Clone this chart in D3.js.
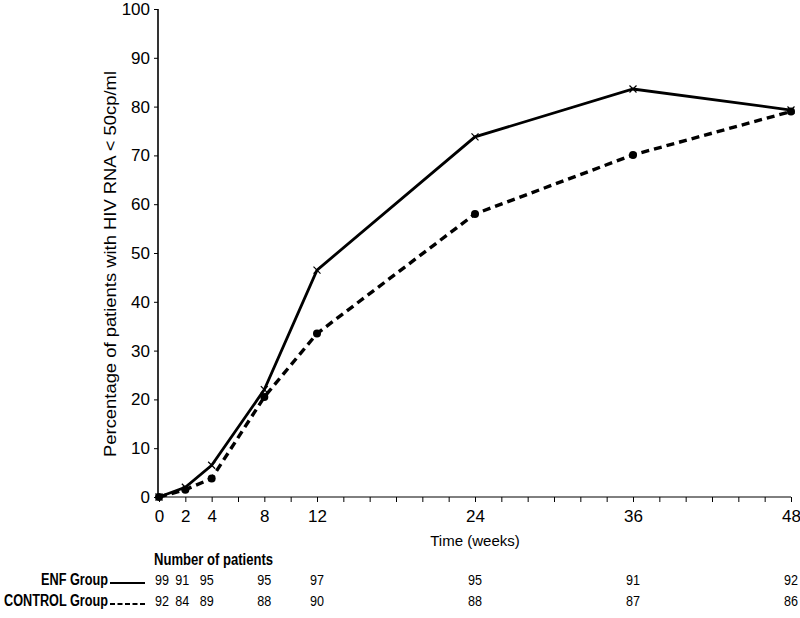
<!DOCTYPE html>
<html>
<head>
<meta charset="utf-8">
<script src="https://cdn.jsdelivr.net/npm/d3@7"></script>
<style>
  body { margin: 0; background: #fff; }
  svg { display: block; }
  text { font-family: "Liberation Sans", Arial, sans-serif; fill: #000; }
</style>
</head>
<body>
<svg id="chart" width="800" height="618"></svg>
<script>
// ---- data ----
const weeks = [0, 2, 4, 8, 12, 24, 36, 48];
const enfValues = [0, 2, 6.5, 22, 46.5, 73.8, 83.6, 79.3];
const controlValues = [0, 1.5, 3.8, 20.5, 33.5, 58, 70.1, 79];
const enfCounts = [99, 91, 95, 95, 97, 95, 91, 92];
const controlCounts = [92, 84, 89, 88, 90, 88, 87, 86];
const xTickLabels = [0, 2, 4, 8, 12, 24, 36, 48];
const xMinorTicks = d3.range(0, 49, 2);
const yTicks = [0, 10, 20, 30, 40, 50, 60, 70, 80, 90, 100];
const yTitle = "Percentage of patients with HIV RNA < 50cp/ml";
const xTitle = "Time (weeks)";
const tableTitle = "Number of patients";
const groupNames = ["ENF Group", "CONTROL Group"];

// ---- layout ----
const svg = d3.select("#chart");
const x = d3.scaleLinear().domain([0, 48]).range([159, 791]);
const y = d3.scaleLinear().domain([0, 100]).range([497, 9]);
const font = "Liberation Sans, Arial, sans-serif";

// y axis
const yAxis = d3.axisLeft(y).tickValues(yTicks).tickSize(4).tickPadding(4).tickFormat(d3.format("d"));
const gy = svg.append("g").attr("transform", "translate(158,0)").call(yAxis);
gy.select(".domain").attr("stroke", "#000").attr("stroke-width", 1.6).attr("d", `M0,${y(100)}V${y(0)}`);
gy.selectAll(".tick line").attr("stroke", "#000").attr("stroke-width", 1);
gy.selectAll(".tick text").attr("font-size", 17).attr("font-family", font).attr("fill", "#000");

// x axis: minor ticks every 2 weeks, labels at selected weeks
const xAxis = d3.axisBottom(x).tickValues(xMinorTicks).tickSize(5).tickPadding(8)
  .tickFormat(d => xTickLabels.includes(d) ? d : "");
const gx = svg.append("g").attr("transform", `translate(0,${y(0)})`).call(xAxis);
gx.select(".domain").attr("stroke", "#000").attr("stroke-width", 1).attr("d", `M158,0H${x(48)}`);
gx.selectAll(".tick line").attr("stroke", "#000").attr("stroke-width", 1);
gx.selectAll(".tick text").attr("font-size", 17).attr("font-family", font).attr("fill", "#000");

// titles
svg.append("text")
  .attr("transform", `translate(116,264) rotate(-90)`)
  .attr("text-anchor", "middle").attr("font-size", 17)
  .attr("textLength", 386).attr("lengthAdjust", "spacingAndGlyphs")
  .text(yTitle);
svg.append("text").attr("x", x(24)).attr("y", 546).attr("text-anchor", "middle")
  .attr("font-size", 15).text(xTitle);

// lines
const enf = weeks.map((w, i) => ({ w, v: enfValues[i] }));
const ctrl = weeks.map((w, i) => ({ w, v: controlValues[i] }));
const line = d3.line().x(d => x(d.w)).y(d => y(d.v));

svg.append("path").datum(ctrl).attr("d", line).attr("fill", "none")
  .attr("stroke", "#000").attr("stroke-width", 3.4).attr("stroke-dasharray", "8,5");
svg.append("path").datum(enf).attr("d", line).attr("fill", "none")
  .attr("stroke", "#000").attr("stroke-width", 2.8);

// markers
svg.selectAll(".cm").data(ctrl).enter().append("circle")
  .attr("cx", d => x(d.w)).attr("cy", d => y(d.v)).attr("r", 4).attr("fill", "#000");
svg.selectAll(".em").data(enf).enter().append("path")
  .attr("d", d => { const cx = x(d.w), cy = y(d.v), s = 3.5;
    return `M${cx - s},${cy - s}L${cx + s},${cy + s}M${cx - s},${cy + s}L${cx + s},${cy - s}`; })
  .attr("stroke", "#000").attr("stroke-width", 1.2);

// table
svg.append("text").attr("x", 154).attr("y", 565).attr("font-size", 17)
  .attr("font-weight", "bold").attr("textLength", 119).attr("lengthAdjust", "spacingAndGlyphs")
  .text(tableTitle);

const rowsY = [585, 606];
const labelW = [67, 104];
const counts = [enfCounts, controlCounts];
groupNames.forEach((name, r) => {
  svg.append("text").attr("x", 108 - labelW[r]).attr("y", rowsY[r])
    .attr("font-size", 16).attr("font-weight", "bold")
    .attr("textLength", labelW[r]).attr("lengthAdjust", "spacingAndGlyphs").text(name);
  svg.append("line").attr("x1", 110).attr("x2", 145).attr("y1", rowsY[r] - 2).attr("y2", rowsY[r] - 2)
    .attr("stroke", "#000").attr("stroke-width", 1.8)
    .attr("stroke-dasharray", r === 1 ? "5,2.5" : null);
  svg.selectAll(".cnt" + r).data(counts[r]).enter().append("text")
    .attr("x", (d, i) => x(weeks[i]) + (i < 3 ? [3, -3, -5][i] : 0)).attr("y", rowsY[r])
    .attr("text-anchor", "middle").attr("font-size", 15.5)
    .attr("textLength", 14).attr("lengthAdjust", "spacingAndGlyphs").text(d => d);
});
</script>
</body>
</html>
